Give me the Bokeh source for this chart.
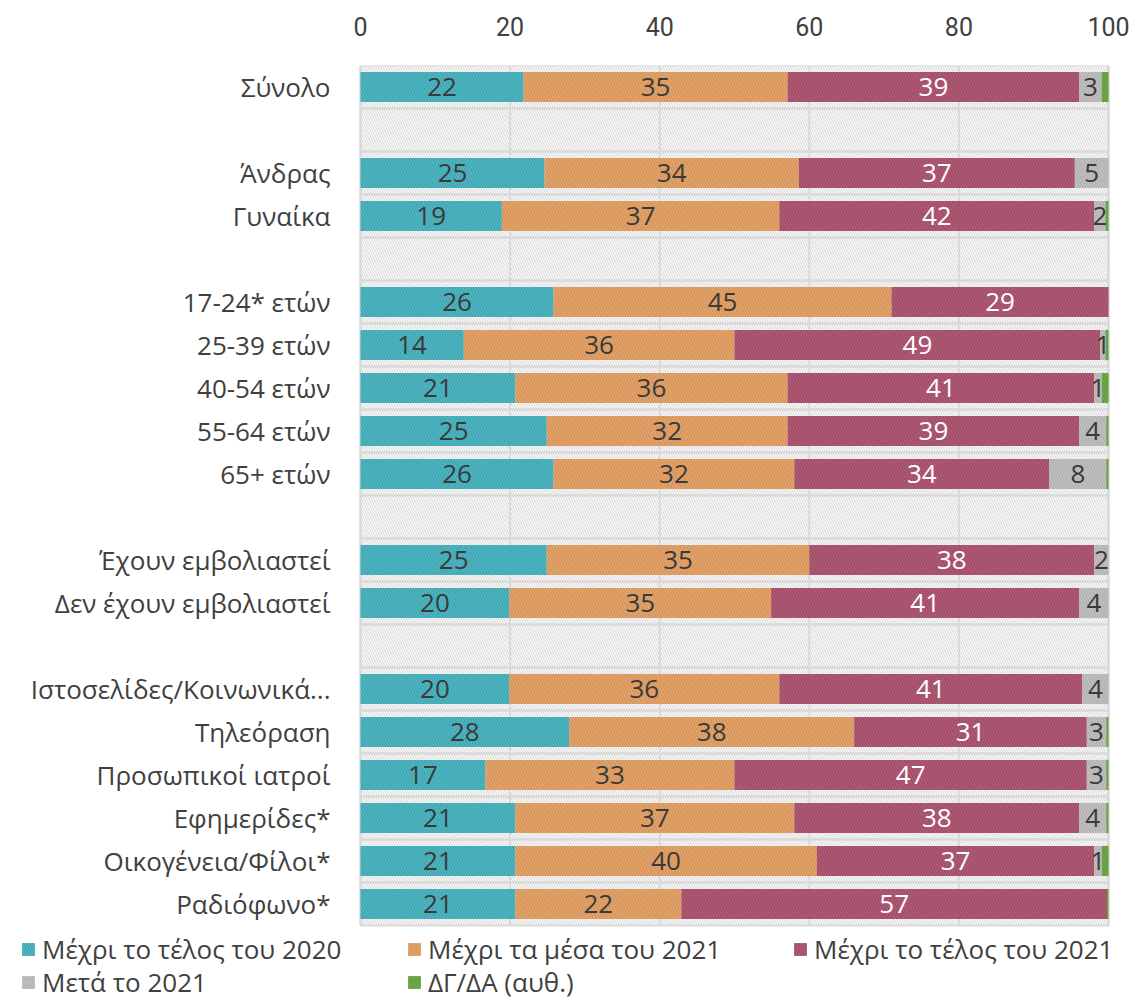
from bokeh.plotting import figure
from bokeh.models import ColumnDataSource, Range1d, Legend, LegendItem, FixedTicker
from bokeh.core.properties import value
from bokeh.embed import file_html
from bokeh.resources import INLINE

categories = ["Σύνολο", "Άνδρας", "Γυναίκα", "17-24* ετών", "25-39 ετών", "40-54 ετών",
              "55-64 ετών", "65+ ετών", "Έχουν εμβολιαστεί", "Δεν έχουν εμβολιαστεί",
              "Ιστοσελίδες/Κοινωνικά...", "Τηλεόραση", "Προσωπικοί ιατροί", "Εφημερίδες*",
              "Οικογένεια/Φίλοι*", "Ραδιόφωνο*"]
gap_after = ["Σύνολο", "Γυναίκα", "65+ ετών", "Δεν έχουν εμβολιαστεί"]

series_names = ["Μέχρι το τέλος του 2020", "Μέχρι τα μέσα του 2021", "Μέχρι το τέλος του 2021",
                "Μετά το 2021", "ΔΓ/ΔΑ (αυθ.)"]
end_2020 = [21.8, 24.6, 18.9, 25.8, 13.8, 20.7, 24.9, 25.8, 24.9, 19.9, 19.9, 27.9, 16.7, 20.7, 20.7, 20.7]
mid_2021 = [35.3, 34.0, 37.1, 45.2, 36.2, 36.4, 32.2, 32.2, 35.1, 35.0, 36.1, 38.1, 33.3, 37.3, 40.3, 22.2]
end_2021 = [39.0, 36.9, 42.1, 29.0, 48.9, 41.0, 39.0, 34.1, 38.1, 41.2, 40.5, 31.1, 47.1, 38.1, 37.1, 56.9]
after_2021 = [3.0, 4.5, 1.5, 0.0, 0.7, 1.0, 3.6, 7.6, 1.9, 3.9, 3.5, 2.6, 2.6, 3.6, 1.0, 0.0]
dk_na = [0.9, 0.0, 0.4, 0.0, 0.4, 0.9, 0.3, 0.3, 0.0, 0.0, 0.0, 0.3, 0.3, 0.3, 0.9, 0.2]
x_ticks = [0, 20, 40, 60, 80, 100]

colors = ["#45B3BF", "#E3A064", "#AD5370", "#BEBEBE", "#6AA540"]
hatch_colors = ["#2E8F99", "#C07B40", "#8A3450", "#9A9A9A", "#4E8A2A"]
label_colors = ["#3A3A3A", "#3A3A3A", "#FFFFFF", "#3A3A3A", None]
FONT = "Open Sans"
TXT = "#404040"

# layout in pixels (frame spans whole figure width; label column and legend live inside it)
W, H, TOP = 1134, 1000, 65
LABEL_COL, PLOT_W, ROW_PX = 360, 748, 43

rows = []
for c in categories:
    rows.append(c)
    if c in gap_after:
        rows.append("")
row_pos = list(range(len(rows)))
cat_pos = [row_pos[i] for i, r in enumerate(rows) if r != ""]

px_per_unit = PLOT_W / 100.0
x_start = -LABEL_COL / px_per_unit
x_end = (W - LABEL_COL) / px_per_unit
legend_rows = (H - TOP - len(rows) * ROW_PX) / ROW_PX

p = figure(width=W, height=H, x_range=Range1d(x_start, x_end),
           y_range=Range1d(len(rows) - 0.5 + legend_rows, -0.5), x_axis_location="above",
           output_backend="svg", toolbar_location=None,
           min_border_left=0, min_border_right=0, min_border_top=TOP, min_border_bottom=0)
p.outline_line_color = None
p.grid.grid_line_color = None
p.yaxis.visible = False

# vertical grid lines over the rows only
p.segment(x0=x_ticks, x1=x_ticks, y0=-0.5, y1=len(rows) - 0.5, line_color="#D9D9D9", line_width=2)

# row backgrounds
p.hbar(y=row_pos, left=0, right=100, height=1.0, fill_alpha=0, line_color="#D9D9D9", line_width=2,
       hatch_pattern="left_diagonal_line", hatch_color="#DADADA", hatch_scale=5, hatch_weight=1.2)

series = [end_2020, mid_2021, end_2021, after_2021, dk_na]
left = [0.0] * len(categories)
renderers = []
lab_x, lab_y, lab_t, lab_c = [], [], [], []
for i, vals in enumerate(series):
    right = [l + v for l, v in zip(left, vals)]
    r = p.hbar(y=cat_pos, left=left, right=right, height=0.7, fill_color=colors[i], fill_alpha=0.95,
               line_color=None, hatch_pattern="left_diagonal_line", hatch_color=hatch_colors[i],
               hatch_alpha=0.45, hatch_scale=6, hatch_weight=1.2)
    renderers.append(r)
    if label_colors[i] is not None:
        for y, l, v in zip(cat_pos, left, vals):
            if v >= 0.5:
                lab_x.append(l + v / 2)
                lab_y.append(y)
                lab_t.append(str(int(v + 0.5)))
                lab_c.append(label_colors[i])
    left = right

src = ColumnDataSource(dict(x=lab_x, y=lab_y, t=lab_t, c=lab_c))
p.text(x="x", y="y", text="t", text_color="c", source=src, text_align="center",
       text_baseline="middle", text_font=value(FONT), text_font_size="26px")

# category labels
p.text(x=[0] * len(categories), y=cat_pos, text=categories, x_offset=-30, text_align="right",
       text_baseline="middle", text_font=value(FONT), text_font_size="26px", text_color=TXT)

p.xaxis.ticker = FixedTicker(ticks=x_ticks)
p.xaxis.axis_line_color = None
p.xaxis.major_tick_line_color = None
p.xaxis.minor_tick_line_color = None
p.xaxis.major_label_standoff = 24
p.xaxis.major_label_text_font = "Roboto"
p.xaxis.major_label_text_font_size = "25px"
p.xaxis.major_label_text_color = TXT

items = [LegendItem(label=n, renderers=[r]) for n, r in zip(series_names, renderers)]
for chunk, loc in ((items[:3], (20, 33)), (items[3:], (20, 0))):
    lg = Legend(items=chunk, orientation="horizontal", location=loc,
                label_text_font=FONT, label_text_font_size="26px", label_text_color=TXT,
                glyph_width=16, glyph_height=16, label_standoff=6, label_width=329,
                spacing=35, padding=0, margin=0,
                border_line_color=None, background_fill_alpha=0)
    p.add_layout(lg, "center")

open("out.html", "w").write(file_html(p, INLINE))
